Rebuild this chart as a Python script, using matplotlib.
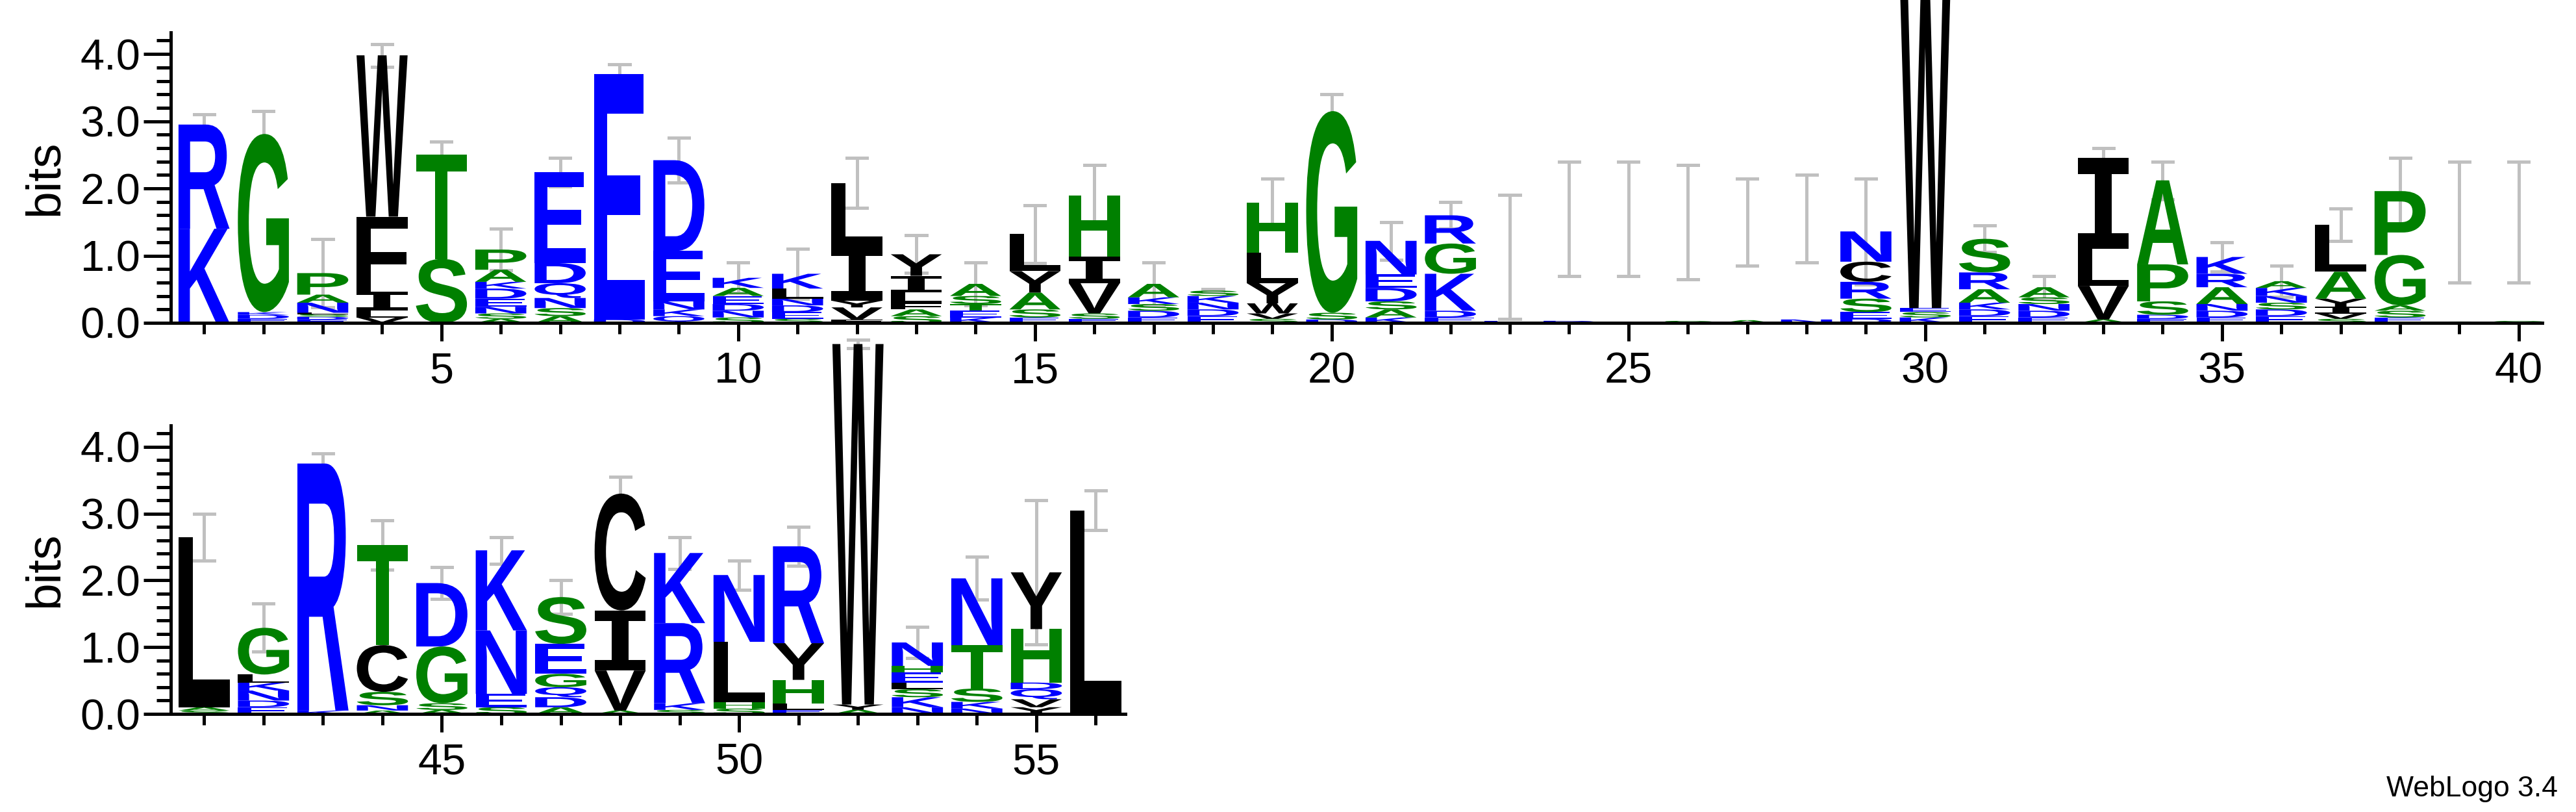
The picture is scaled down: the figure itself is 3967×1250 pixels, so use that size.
import matplotlib
matplotlib.use("Agg")
import matplotlib.pyplot as plt
from matplotlib.textpath import TextPath
from matplotlib.font_manager import FontProperties
from matplotlib.patches import PathPatch
from matplotlib.transforms import Affine2D
from matplotlib.ticker import MultipleLocator, FormatStrFormatter

plt.rcParams['font.family'] = ['Liberation Sans', 'DejaVu Sans']

# ---- data: stacks (bottom -> top), heights in bits ----
positions = list(range(1, 57))
stacks = {
1: [("K",1.4),("R",1.55)],
2: [("E",0.06),("D",0.06),("K",0.04),("G",2.65)],
3: [("E",0.05),("D",0.04),("S",0.04),("L",0.02),("N",0.15),("A",0.12),("P",0.32)],
4: [("V",0.08),("L",0.1),("I",0.28),("F",1.12),("W",2.4)],
5: [("S",0.95),("T",1.55)],
6: [("A",0.06),("S",0.08),("N",0.1),("E",0.12),("D",0.15),("K",0.1),("A",0.18),("P",0.3)],
7: [("A",0.1),("S",0.12),("N",0.15),("Q",0.22),("D",0.3),("E",1.35)],
8: [("D",0.05),("E",3.65)],
9: [("Q",0.1),("K",0.1),("N",0.12),("E",0.75),("D",1.35)],
10: [("S",0.08),("N",0.1),("D",0.1),("E",0.12),("A",0.12),("K",0.15)],
11: [("S",0.06),("E",0.1),("D",0.1),("N",0.1),("L",0.15),("K",0.22)],
12: [("F",0.05),("V",0.18),("Y",0.1),("I",0.8),("L",0.95)],
13: [("S",0.1),("A",0.1),("F",0.1),("L",0.15),("I",0.25),("Y",0.32)],
14: [("K",0.08),("E",0.1),("T",0.1),("S",0.12),("A",0.18)],
15: [("E",0.08),("S",0.12),("A",0.25),("Y",0.32),("L",0.55)],
16: [("E",0.06),("S",0.08),("V",0.45),("I",0.4),("H",0.9)],
17: [("E",0.08),("D",0.1),("S",0.1),("K",0.1),("A",0.2)],
18: [("E",0.1),("D",0.1),("N",0.1),("K",0.1),("S",0.08)],
19: [("S",0.06),("V",0.08),("W",0.15),("Y",0.3),("L",0.45),("H",0.75)],
20: [("D",0.05),("S",0.1),("G",3.0)],
21: [("K",0.08),("A",0.12),("S",0.12),("D",0.2),("E",0.2),("N",0.5)],
22: [("E",0.08),("D",0.1),("K",0.55),("G",0.45),("R",0.42)],
23: [("E",0.03)],
24: [("D",0.03)],
25: [("E",0.02)],
26: [("S",0.03)],
27: [("A",0.04)],
28: [("N",0.05)],
29: [("D",0.06),("E",0.1),("S",0.2),("R",0.25),("C",0.3),("N",0.45)],
30: [("K",0.08),("S",0.08),("E",0.06),("W",4.9)],
31: [("E",0.1),("D",0.1),("K",0.1),("A",0.2),("R",0.25),("S",0.5)],
32: [("E",0.08),("D",0.1),("N",0.1),("S",0.1),("A",0.15)],
33: [("A",0.05),("V",0.5),("L",0.55),("I",1.35)],
34: [("E",0.06),("D",0.06),("S",0.2),("P",0.55),("A",1.25)],
35: [("E",0.08),("D",0.1),("N",0.1),("A",0.25),("R",0.2),("K",0.25)],
36: [("E",0.1),("D",0.1),("S",0.1),("N",0.1),("K",0.12),("A",0.1)],
37: [("S",0.06),("V",0.08),("I",0.1),("Y",0.12),("A",0.4),("L",0.7)],
38: [("E",0.08),("S",0.1),("A",0.08),("G",0.75),("P",0.95)],
39: [("S",0.02)],
40: [("G",0.03)],
41: [("S",0.05),("A",0.05),("L",2.55)],
42: [("E",0.1),("D",0.1),("N",0.15),("K",0.12),("L",0.12),("G",0.7)],
43: [("K",0.05),("R",3.7)],
44: [("A",0.05),("N",0.08),("S",0.2),("C",0.7),("T",1.5)],
45: [("A",0.06),("S",0.1),("G",0.85),("D",0.95)],
46: [("S",0.1),("E",0.2),("N",0.95),("K",1.2)],
47: [("A",0.1),("D",0.15),("Q",0.15),("G",0.2),("E",0.45),("S",0.7)],
48: [("A",0.05),("V",0.6),("I",0.9),("C",1.75)],
49: [("S",0.06),("K",0.1),("R",1.2),("K",1.05)],
50: [("S",0.08),("H",0.1),("L",0.9),("N",1.0)],
51: [("E",0.06),("L",0.1),("H",0.35),("Y",0.55),("R",1.45)],
52: [("A",0.06),("Y",0.08),("W",5.4)],
53: [("N",0.1),("K",0.15),("S",0.12),("L",0.1),("E",0.15),("H",0.1),("N",0.35)],
54: [("N",0.08),("K",0.1),("S",0.2),("T",0.65),("N",1.0)],
55: [("Y",0.1),("V",0.12),("Q",0.15),("D",0.1),("H",0.8),("Y",0.85)],
56: [("L",3.05)],
}
err_hi = [3.1,3.15,1.25,4.15,2.7,1.4,2.45,3.85,2.75,0.9,1.1,2.45,1.3,0.9,1.75,2.35,0.9,0.5,2.15,3.4,
          1.5,1.8,1.9,2.4,2.4,2.35,2.15,2.2,2.15,5.2,1.45,0.7,2.6,2.4,1.2,0.85,1.7,2.45,2.4,2.4,
          3.0,1.65,3.9,2.9,2.2,2.65,2.0,3.55,2.65,2.3,2.8,5.6,1.3,2.35,3.2,3.35]
err_lo_override = {23:0.06, 24:0.7, 25:0.7, 26:0.65, 27:0.85, 28:0.9, 39:0.6, 40:0.6}

colors = {}
for a in "RKDENQ": colors[a] = "#0000ff"
for a in "SGHTAP": colors[a] = "#008000"
for a in "YVMCLFIW": colors[a] = "#000000"

fig = plt.figure(figsize=(39.67, 12.5), dpi=100)
ax1 = fig.add_axes([0.0663, 0.6024, 0.9207, 0.3576])
ax2 = fig.add_axes([0.0663, 0.1208, 0.3706, 0.3552])
fp = FontProperties(family="Liberation Sans", weight="bold")
fp_i = FontProperties(family="DejaVu Sans Mono", weight="bold")
W = 0.86

def draw(ax, pos):
    y = 0.0
    for letter, h in stacks[pos]:
        tp = TextPath((0, 0), letter, size=1, prop=fp_i if letter == "I" else fp)
        bb = tp.get_extents()
        tr = (Affine2D().translate(-bb.x0, -bb.y0)
              .scale(W / bb.width, h / bb.height)
              .translate(pos - W / 2, y))
        patch = PathPatch(tr.transform_path(tp), facecolor=colors[letter],
                          edgecolor="none", clip_on=False, zorder=2)
        ax.add_patch(patch)
        y += h
    hi = err_hi[pos - 1]
    lo = err_lo_override.get(pos, max(2 * y - hi, 0.04))
    ax.plot([pos, pos], [lo, hi], color="#c0c0c0", lw=3.6, clip_on=False, zorder=1.5)
    for v in (lo, hi):
        ax.plot([pos - 0.17, pos + 0.17], [v, v], color="#c0c0c0", lw=3.6,
                clip_on=False, zorder=1.5)

for ax, rng, xl in ((ax1, range(1, 41), (0.44, 40.4)), (ax2, range(41, 57), (40.44, 56.5))):
    for p in rng:
        draw(ax, p)
    ax.set_xlim(*xl)
    ax.set_ylim(0, 4.32)
    for s in ("top", "right"):
        ax.spines[s].set_visible(False)
    for s in ("left", "bottom"):
        ax.spines[s].set_linewidth(3.6)
        ax.spines[s].set_zorder(3)
    ax.yaxis.set_major_locator(MultipleLocator(1.0))
    ax.yaxis.set_minor_locator(MultipleLocator(0.2))
    ax.xaxis.set_major_locator(MultipleLocator(5))
    ax.xaxis.set_minor_locator(MultipleLocator(1))
    ax.yaxis.set_major_formatter(FormatStrFormatter("%.1f"))
    ax.tick_params(axis="both", which="major", length=30, width=3.6, labelsize=48, direction="out")
    ax.tick_params(axis="y", which="minor", length=16, width=3.6)
    ax.tick_params(axis="x", which="minor", length=12, width=3.6)
    ax.tick_params(axis="x", which="major", length=20, pad=12)
    ax.set_ylabel("bits", fontsize=54, labelpad=14)

fig.text(0.993, 0.012, "WebLogo 3.4", ha="right", va="bottom", fontsize=32)
fig.savefig("out.png", dpi=100)
